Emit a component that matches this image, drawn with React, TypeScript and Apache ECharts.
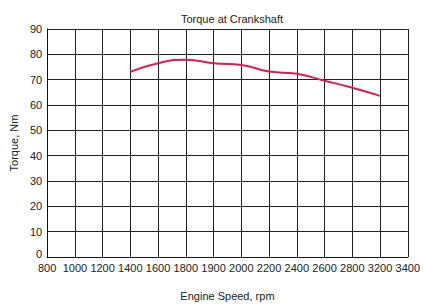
import React, { useEffect, useRef } from "react";
import * as echarts from "echarts";

const categories = ["800", "1000", "1200", "1400", "1600", "1800", "1900", "2000", "2200", "2400", "2600", "2800", "3200", "3400"];
const torque = [null, null, null, 73.1, 76.5, 77.9, 76.5, 75.8, 73.2, 72.3, 69.6, 66.8, 63.6, null];

const FONT = "'Liberation Sans Narrow', 'Liberation Sans', Arial, sans-serif";

export default function App() {
  const ref = useRef<HTMLDivElement>(null);
  useEffect(() => {
    if (!ref.current) return;
    const chart = echarts.init(ref.current, null, { renderer: "svg" });
    chart.setOption({
      animation: false,
      backgroundColor: "#ffffff",
      title: {
        text: "Torque at Crankshaft",
        left: 227,
        textAlign: "center",
        top: 8,
        textStyle: { fontFamily: FONT, fontSize: 11, fontWeight: "normal", color: "#222" },
      },
      grid: { left: 42, right: 10, top: 29, bottom: 45, containLabel: false },
      xAxis: {
        type: "category",
        data: categories,
        boundaryGap: false,
        name: "Engine Speed, rpm",
        nameLocation: "middle",
        nameGap: 33,
        nameTextStyle: { fontFamily: FONT, fontSize: 11, color: "#222" },
        axisLine: { lineStyle: { color: "#111", width: 1 } },
        axisTick: { show: false },
        axisLabel: { interval: 0, fontFamily: FONT, fontSize: 11, color: "#222", margin: 5 },
        splitLine: { show: true, interval: 0, lineStyle: { color: "#222", width: 1 } },
      },
      yAxis: {
        type: "value",
        min: 0,
        max: 90,
        interval: 10,
        name: "Torque, Nm",
        nameLocation: "middle",
        nameGap: 24,
        nameTextStyle: { fontFamily: FONT, fontSize: 11, color: "#222" },
        axisLine: { show: true, lineStyle: { color: "#111", width: 1 } },
        axisTick: { show: false },
        axisLabel: {
          fontFamily: FONT,
          fontSize: 11,
          color: "#222",
          margin: 5,
          formatter: (v: number) => (v === 0 ? "{z|0}" : String(v)),
          rich: { z: { fontFamily: FONT, fontSize: 11, color: "#222", padding: [0, 0, 7, 0] } },
        },
        splitLine: { show: true, lineStyle: { color: "#222", width: 1 } },
      },
      series: [
        {
          type: "line",
          data: torque,
          smooth: true,
          showSymbol: false,
          symbol: "none",
          lineStyle: { color: "#dc1f48", width: 2 },
        },
      ],
    });
    return () => chart.dispose();
  }, []);
  return <div ref={ref} style={{ position: "fixed", left: 0, top: 0, width: 423, height: 306 }} />;
}
